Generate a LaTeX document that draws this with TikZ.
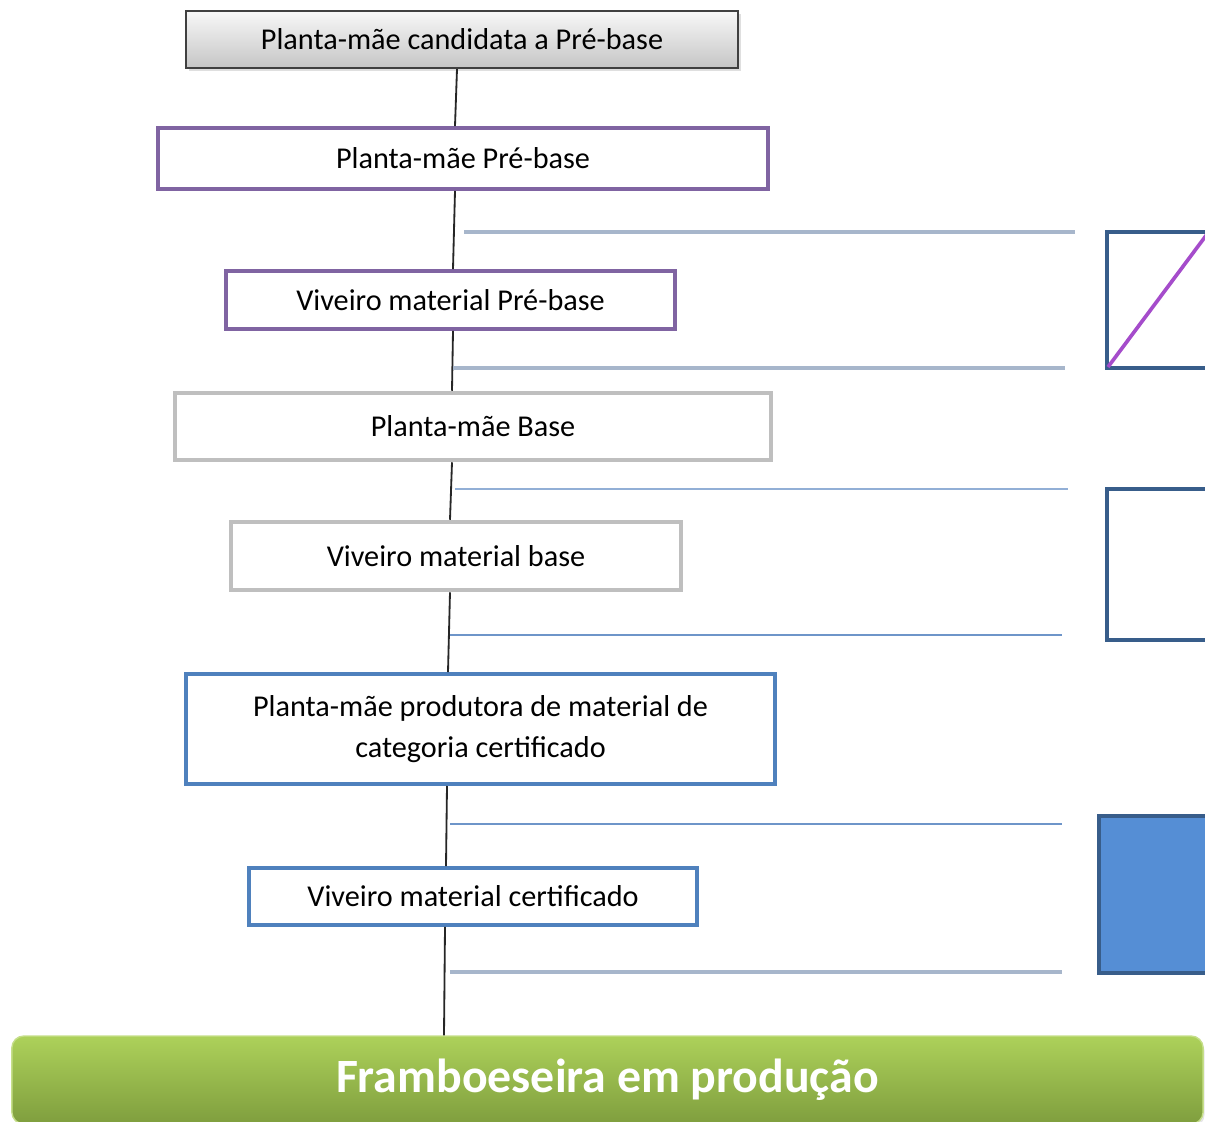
\documentclass[tikz,border=0pt]{standalone}
\usepackage{fontspec}
\setmainfont{Carlito}
\usetikzlibrary{shadows}

\definecolor{lilac}{HTML}{8064A2}
\definecolor{diaglilac}{HTML}{A54CCB}
\definecolor{palegray}{HTML}{BFBFBF}
\definecolor{midblue}{HTML}{4F81BD}
\definecolor{darkblue}{HTML}{385D8A}
\definecolor{fillblue}{HTML}{558ED5}
\definecolor{rulegray}{HTML}{A7B6CB}
\definecolor{ruleblue}{HTML}{6E95C9}
\definecolor{greentop}{HTML}{ADD15A}
\definecolor{greenbot}{HTML}{7F9E3E}

\tikzset{
  catbox/.style={draw, line width=2.8pt, fill=white, inner sep=0pt, align=center,
    font=\fontsize{21.5}{29}\selectfont},
  spine/.style={line width=1.3pt, black!85},
  rule/.style={line width=2.4pt, rulegray},
}

\begin{document}
\begin{tikzpicture}[x=0.025cm, y=-0.025cm]
\useasboundingbox (0,0) rectangle (1205,1121);
\clip (0,0) rectangle (1205,1121);

% ======================================
% THE CANDIDATE NODE
% ======================================
\node[catbox, line width=1.6pt, draw=black!75, top color=gray!6, bottom color=gray!45,
  drop shadow={opacity=0.25, shadow xshift=2pt, shadow yshift=-2pt},
  minimum width=13.8cm, minimum height=1.425cm] (pmc) at (462,39.5) {Planta-mãe candidata a Pré-base};

% ======================================
% BLOCK 1 (LILAC): PRE-BASE
% ======================================
\node[catbox, draw=lilac, minimum width=15.25cm, minimum height=1.525cm] (pmpb) at (463,158.5) {Planta-mãe Pré-base};
\node[catbox, draw=lilac, minimum width=11.225cm, minimum height=1.45cm] (vmpb) at (450.5,300) {Viveiro material Pré-base};
\draw [spine] (pmc.south -| 457,0) -- (pmpb.north -| 455,0);
\draw [spine] (pmpb.south -| 455,0) -- (vmpb.north -| 453,0);

% ======================================
% BLOCK 2 (GRAY): BASE
% ======================================
\node[catbox, draw=palegray, line width=3.2pt, minimum width=14.9cm, minimum height=1.675cm] (pmb) at (473,426.5) {Planta-mãe Base};
\node[catbox, draw=palegray, line width=3.2pt, minimum width=11.25cm, minimum height=1.7cm] (vmb) at (456,556) {Viveiro material base};
\draw [spine] (vmpb.south -| 453,0) -- (pmb.north -| 452,0);
\draw [spine] (pmb.south -| 452,0) -- (vmb.north -| 450,0);

% ======================================
% BLOCK 3 (BLUE): CERTIFICADO
% ======================================
\node[catbox, draw=midblue, minimum width=14.725cm, minimum height=2.75cm] (pmpc) at (480.5,729) {Planta-mãe produtora de material de\\categoria certificado};
\node[catbox, draw=midblue, minimum width=11.2cm, minimum height=1.425cm] (vmc) at (473,896.5) {Viveiro material certificado};
\draw [spine] (vmb.south -| 450,0) -- (pmpc.north -| 448,0);
\draw [spine] (pmpc.south -| 447,0) -- (vmc.north -| 446,0);

% ======================================
% THE PRODUCTION BAR
% ======================================
\node[draw=greentop!70!white, line width=1pt, rounded corners=0.3cm, top color=greentop, bottom color=greenbot,
  drop shadow={opacity=0.2, shadow xshift=1pt, shadow yshift=-2pt},
  minimum width=29.775cm, minimum height=2.2cm, inner sep=0pt, text=white,
  font=\fontsize{34}{40}\selectfont\bfseries] (fep) at (607.5,1080) {Framboeseira em produção};
\draw [spine] (vmc.south -| 445,0) -- (fep.north -| 444,0);

% ======================================
% RULES AND SIDE BLOCKS
% ======================================
\coordinate (r1a) at (464,232);  \coordinate (r1b) at (1075,232);
\coordinate (r2a) at (453,368);  \coordinate (r2b) at (1065,368);
\coordinate (r3a) at (455,489);  \coordinate (r3b) at (1068,489);
\coordinate (r4a) at (450,635);  \coordinate (r4b) at (1062,635);
\coordinate (r5a) at (450,824);  \coordinate (r5b) at (1062,824);
\coordinate (r6a) at (450,972);  \coordinate (r6b) at (1062,972);
\draw [rule] (r1a) -- (r1b);
\draw [rule] (r2a) -- (r2b);
\draw [rule, line width=1.8pt, ruleblue!75] (r3a) -- (r3b);
\draw [rule, line width=1.6pt, ruleblue] (r4a) -- (r4b);
\draw [rule, line width=1.6pt, ruleblue] (r5a) -- (r5b);
\draw [rule] (r6a) -- (r6b);

\draw [darkblue, line width=2.6pt, fill=white] (1107,232) rectangle (1240,368);
\draw [diaglilac, line width=2.6pt] (1108,367) -- (1240,190);
\draw [darkblue, line width=3pt, fill=white] (1107,489) rectangle (1240,640);
\draw [darkblue, line width=3pt, fill=fillblue] (1099,816) rectangle (1240,973);

\end{tikzpicture}
\end{document}
